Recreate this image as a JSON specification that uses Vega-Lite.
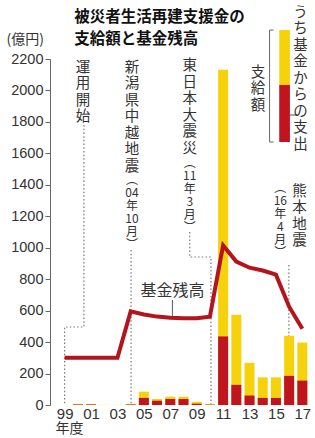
{
  "$schema": "https://vega.github.io/schema/vega-lite/v6.json",
  "width": 265,
  "height": 346,
  "autosize": {"type": "none"},
  "padding": {"left": 50, "top": 59, "right": 0, "bottom": 33},
  "background": "white",
  "config": {"view": {"stroke": null}, "font": "Liberation Sans"},
  "datasets": {
    "main": [
      {"x": 1999, "s": "total", "y": 0}, {"x": 1999, "s": "fund", "y": 0}, {"x": 1999, "s": "bal", "y": 300},
      {"x": 2000, "s": "total", "y": 6}, {"x": 2000, "s": "fund", "y": 3}, {"x": 2000, "s": "bal", "y": 300},
      {"x": 2001, "s": "total", "y": 6}, {"x": 2001, "s": "fund", "y": 3}, {"x": 2001, "s": "bal", "y": 300},
      {"x": 2002, "s": "total", "y": 1}, {"x": 2002, "s": "fund", "y": 0}, {"x": 2002, "s": "bal", "y": 300},
      {"x": 2003, "s": "total", "y": 1}, {"x": 2003, "s": "fund", "y": 0}, {"x": 2003, "s": "bal", "y": 300},
      {"x": 2004, "s": "total", "y": 6}, {"x": 2004, "s": "fund", "y": 3}, {"x": 2004, "s": "bal", "y": 595},
      {"x": 2005, "s": "total", "y": 85}, {"x": 2005, "s": "fund", "y": 45}, {"x": 2005, "s": "bal", "y": 575},
      {"x": 2006, "s": "total", "y": 38}, {"x": 2006, "s": "fund", "y": 27}, {"x": 2006, "s": "bal", "y": 562},
      {"x": 2007, "s": "total", "y": 53}, {"x": 2007, "s": "fund", "y": 38}, {"x": 2007, "s": "bal", "y": 555},
      {"x": 2008, "s": "total", "y": 53}, {"x": 2008, "s": "fund", "y": 38}, {"x": 2008, "s": "bal", "y": 552},
      {"x": 2009, "s": "total", "y": 20}, {"x": 2009, "s": "fund", "y": 8}, {"x": 2009, "s": "bal", "y": 552},
      {"x": 2010, "s": "total", "y": 5}, {"x": 2010, "s": "fund", "y": 2}, {"x": 2010, "s": "bal", "y": 562},
      {"x": 2011, "s": "total", "y": 2132}, {"x": 2011, "s": "fund", "y": 436}, {"x": 2011, "s": "bal", "y": 1015},
      {"x": 2012, "s": "total", "y": 574}, {"x": 2012, "s": "fund", "y": 128}, {"x": 2012, "s": "bal", "y": 912},
      {"x": 2013, "s": "total", "y": 268}, {"x": 2013, "s": "fund", "y": 60}, {"x": 2013, "s": "bal", "y": 873},
      {"x": 2014, "s": "total", "y": 176}, {"x": 2014, "s": "fund", "y": 45}, {"x": 2014, "s": "bal", "y": 855},
      {"x": 2015, "s": "total", "y": 176}, {"x": 2015, "s": "fund", "y": 45}, {"x": 2015, "s": "bal", "y": 829},
      {"x": 2016, "s": "total", "y": 440}, {"x": 2016, "s": "fund", "y": 185}, {"x": 2016, "s": "bal", "y": 625},
      {"x": 2017, "s": "total", "y": 397}, {"x": 2017, "s": "fund", "y": 155}, {"x": 2017, "s": "bal", "y": 485}
    ],
    "dots": [
      {"g": 1, "o": 0, "x": 2000.46, "y": 1780},
      {"g": 1, "o": 1, "x": 2000.46, "y": 496},
      {"g": 1, "o": 2, "x": 1999, "y": 496},
      {"g": 1, "o": 3, "x": 1999, "y": 0},
      {"g": 2, "o": 0, "x": 2004.03, "y": 986},
      {"g": 2, "o": 1, "x": 2004.03, "y": 0},
      {"g": 3, "o": 0, "x": 2008.475, "y": 1100},
      {"g": 3, "o": 1, "x": 2008.475, "y": 941},
      {"g": 3, "o": 2, "x": 2010.08, "y": 941},
      {"g": 3, "o": 3, "x": 2010.08, "y": 0},
      {"g": 4, "o": 0, "x": 2015.98, "y": 890},
      {"g": 4, "o": 1, "x": 2015.98, "y": 439}
    ],
    "vmain": [
      {"t": "運|用|開|始", "x": 2000.385, "y": 2190},
      {"t": "新|潟|県|中|越|地|震", "x": 2004.1, "y": 2190},
      {"t": "東|日|本|大|震|災", "x": 2008.475, "y": 2197},
      {"t": "熊|本|地|震", "x": 2016.78, "y": 1402},
      {"t": "支|給|額", "x": 2013.65, "y": 2158},
      {"t": "う|ち|基|金|か|ら|の|支|出", "x": 2016.86, "y": 2540}
    ],
    "vparen": [
      {"t": "︵|04|年|10|月|︶", "x": 2004.1, "y": 1462},
      {"t": "︵|11|年|3|月|︶", "x": 2008.475, "y": 1570},
      {"t": "︵|16|年|4|月|︶", "x": 2015.33, "y": 1411}
    ],
    "legrect": [
      {"k": "支給額", "x": 2015.25, "x2": 2016.06, "y": 2035, "y2": 2384},
      {"k": "うち基金からの支出", "x": 2015.25, "x2": 2016.06, "y": 1672, "y2": 2035}
    ],
    "bracket": [
      {"o": 0, "x": 2014.82, "y": 2384},
      {"o": 1, "x": 2014.52, "y": 2384},
      {"o": 2, "x": 2014.52, "y": 1672},
      {"o": 3, "x": 2014.82, "y": 1672}
    ],
    "rules": [
      {"x": 2016.06, "x2": 2016.57, "y": 1844, "y2": 1844},
      {"x": 2007.16, "x2": 2007.16, "y": 668, "y2": 566}
    ],
    "titles": [
      {"t": "被災者生活再建支援金の|支給額と基金残高", "x": 1999.73, "y": 2511}
    ],
    "labels": [
      {"t": "基金残高", "x": 2007.16, "y": 725}
    ],
    "unit": [
      {"t": "年度", "x": 1999.36, "y": -106}
    ]
  },
  "encoding": {
    "x": {
      "field": "x", "type": "quantitative",
      "scale": {"domain": [1998.27, 2017.58], "nice": false, "zero": false},
      "axis": {
        "title": null,
        "values": [1999, 2001, 2003, 2005, 2007, 2009, 2011, 2013, 2015, 2017],
        "labelExpr": "slice(toString(datum.value), 2)",
        "ticks": false, "domain": false, "grid": false,
        "labelFontSize": 15, "labelColor": "#333", "labelPadding": 1,
        "labelFlush": false, "labelOverlap": false
      }
    },
    "y": {
      "field": "y", "type": "quantitative",
      "scale": {"domain": [0, 2200], "nice": false},
      "axis": {
        "title": "(億円)",
        "titleAngle": 0, "titleX": -44, "titleY": -20,
        "titleAlign": "left", "titleBaseline": "middle",
        "titleFont": "Noto Sans CJK JP", "titleFontSize": 14,
        "titleFontWeight": "normal", "titleColor": "#333",
        "values": [0, 200, 400, 600, 800, 1000, 1200, 1400, 1600, 1800, 2000, 2200],
        "format": "d",
        "grid": false, "tickSize": 5, "tickColor": "#666", "domainColor": "#666",
        "labelFontSize": 14.5, "labelColor": "#333", "labelPadding": 2,
        "labelFlush": false, "labelOverlap": false
      }
    }
  },
  "layer": [
    {
      "data": {"name": "dots"},
      "mark": {"type": "line", "stroke": "#777", "strokeWidth": 1.2, "strokeDash": [1.5, 2.2]},
      "encoding": {
        "detail": {"field": "g", "type": "nominal"},
        "order": {"field": "o", "type": "quantitative"}
      }
    },
    {
      "data": {"name": "main"},
      "transform": [{"filter": "datum.s === 'total'"}],
      "mark": {"type": "bar", "orient": "vertical", "width": 10, "color": "#f6d20c"}
    },
    {
      "data": {"name": "main"},
      "transform": [{"filter": "datum.s === 'fund'"}],
      "mark": {"type": "bar", "orient": "vertical", "width": 10, "color": "#c0141f"}
    },
    {
      "data": {"name": "main"},
      "transform": [{"filter": "datum.s === 'bal'"}],
      "mark": {"type": "line", "color": "#b3141d", "strokeWidth": 4, "strokeJoin": "miter"},
      "encoding": {
        "order": {"field": "x", "type": "quantitative"}
      }
    },
    {
      "data": {"name": "legrect"},
      "mark": {"type": "rect"},
      "encoding": {
        "x2": {"field": "x2"},
        "y2": {"field": "y2"},
        "color": {
          "field": "k", "type": "nominal",
          "scale": {"domain": ["支給額", "うち基金からの支出"], "range": ["#f6d20c", "#c0141f"]},
          "legend": null
        }
      }
    },
    {
      "data": {"name": "bracket"},
      "mark": {"type": "line", "stroke": "#666", "strokeWidth": 1},
      "encoding": {
        "order": {"field": "o", "type": "quantitative"}
      }
    },
    {
      "data": {"name": "rules"},
      "mark": {"type": "rule", "stroke": "#555", "strokeWidth": 1},
      "encoding": {
        "x2": {"field": "x2"},
        "y2": {"field": "y2"}
      }
    },
    {
      "data": {"name": "vmain"},
      "mark": {"type": "text", "font": "Noto Sans CJK JP", "fontSize": 14.5, "lineHeight": 16.5, "lineBreak": "|", "align": "center", "baseline": "top", "color": "#333"},
      "encoding": {
        "text": {"field": "t", "type": "nominal"}
      }
    },
    {
      "data": {"name": "vparen"},
      "mark": {"type": "text", "font": "Noto Sans CJK JP", "fontSize": 12, "lineHeight": 13, "lineBreak": "|", "align": "center", "baseline": "top", "color": "#333"},
      "encoding": {
        "text": {"field": "t", "type": "nominal"}
      }
    },
    {
      "data": {"name": "titles"},
      "mark": {"type": "text", "font": "Noto Sans CJK JP", "fontSize": 15.5, "fontWeight": "bold", "lineHeight": 22, "lineBreak": "|", "align": "left", "baseline": "top", "color": "#111"},
      "encoding": {
        "text": {"field": "t", "type": "nominal"}
      }
    },
    {
      "data": {"name": "labels"},
      "mark": {"type": "text", "font": "Noto Sans CJK JP", "fontSize": 16, "align": "center", "baseline": "middle", "color": "#333"},
      "encoding": {
        "text": {"field": "t", "type": "nominal"}
      }
    },
    {
      "data": {"name": "unit"},
      "mark": {"type": "text", "font": "Noto Sans CJK JP", "fontSize": 14, "align": "center", "baseline": "top", "color": "#333"},
      "encoding": {
        "text": {"field": "t", "type": "nominal"}
      }
    }
  ]
}
